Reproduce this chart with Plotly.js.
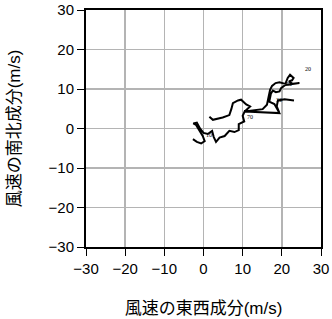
<!DOCTYPE html>
<html><head><meta charset="utf-8">
<script src="https://cdn.plot.ly/plotly-3.0.1.min.js"></script>
<style>html,body{margin:0;padding:0;background:#fff}</style>
</head><body><div id="chart" style="width:332px;height:319px"></div>
<script>
// wind components along the hodograph (m/s)
var uWind = [1.5,2.4,4.9,6.6,7.1,7.5,8.8,9.6,10.9,11.9,10.5,
  15.1,16.2,16.6,17.0,17.5,18.4,19.4,20.9,21.5,22.1,23.0,22.6,21.8,22.8,24.5,22.4,20.9,19.8,19.4,18.5,17.7,17.2,16.8,18.1,19.4,18.7,19.0,20.7,23.1,20.7,19.0,18.7,19.4,10.5,
  10.0,10.4,9.0,9.0,7.9,6.6,5.4,4.1,3.2,2.6,2.2,1.1,0.0,-0.9,-1.7,-2.6,-1.9,-1.0,-0.2,0.3,-0.6,-1.7,-2.7];
var vWind = [3.0,2.2,2.8,3.4,4.9,6.4,7.1,7.3,6.1,5.6,4.3,
  4.9,6.0,8.1,9.8,10.8,11.5,11.7,11.3,12.8,13.6,12.8,12.2,11.9,11.3,11.5,11.2,11.0,10.2,9.4,9.2,9.6,8.8,6.8,6.2,3.9,5.6,7.1,7.4,7.1,7.4,7.1,5.6,3.9,4.3,
  3.2,1.8,1.1,-0.4,-0.9,-0.6,-1.9,-2.3,-3.4,-2.1,-0.6,-1.4,-1.1,0.0,1.5,1.3,0.9,-0.6,-1.9,-3.2,-3.8,-3.4,-2.7];
var labelText = ["10","70","30","50","20"];
var labelU = [1.4,11.9,19.4,21.9,26.6];
var labelV = [-1.7,3.0,7.3,11.3,15.1];
var tickVals = [-30,-20,-10,0,10,20,30];

var traces = [
  {x:uWind, y:vWind, mode:'lines', type:'scatter', line:{color:'#000', width:2}, hoverinfo:'none'}
];
var annotations = labelText.map(function(t,i){
  return {x:labelU[i], y:labelV[i], xref:'x', yref:'y', text:t, showarrow:false,
    font:{family:'Liberation Serif, serif', size:6, color:'#000'}, borderpad:0};
});
function ax(title){
  return {range:[-30,30], tickvals:tickVals, ticks:'outside', ticklen:7, tickwidth:1, tickcolor:'#000',
    showline:true, linecolor:'#000', linewidth:2, mirror:true,
    showgrid:true, gridcolor:'#b4b4b4', gridwidth:1.5, zeroline:false,
    tickfont:{family:'Liberation Sans, Arial, sans-serif', size:15, color:'#000'},
    title:{text:title, font:{family:'Noto Sans CJK JP, sans-serif', size:17, color:'#000'}, standoff:28},
    fixedrange:true};
}
var layout = {
  width:332, height:319, showlegend:false,
  margin:{l:86, r:11, t:10, b:72},
  paper_bgcolor:'#fff', plot_bgcolor:'#fff',
  xaxis: ax('風速の東西成分<span style="font-family:Liberation Sans">(m/s)</span>'),
  yaxis: ax('風速の南北成分<span style="font-family:Liberation Sans">(m/s)</span>'),
  annotations: annotations
};
Plotly.newPlot('chart', traces, layout, {staticPlot:true});
</script></body></html>
